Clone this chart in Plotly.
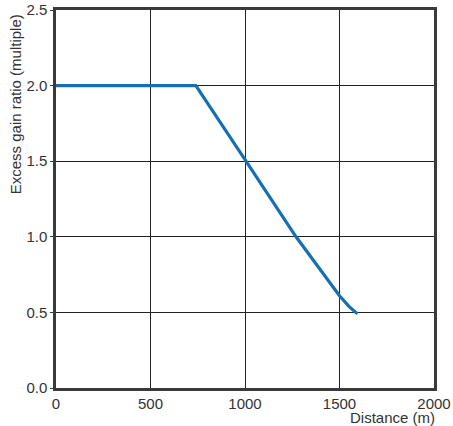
import plotly.graph_objects as go

# valores
distancia = [0, 740, 1000, 1270, 1500, 1550, 1595]
ganancia = [2.0, 2.0, 1.51, 1.0, 0.61, 0.54, 0.49]

x_ticks = [0, 500, 1000, 1500, 2000]
y_ticks = [0.0, 0.5, 1.0, 1.5, 2.0, 2.5]
y_labels = ['0.0', '0.5', '1.0', '1.5', '2.0', '2.5']

fig = go.Figure()
fig.add_trace(
    go.Scatter(
        x=distancia,
        y=ganancia,
        mode='lines',
        line=dict(color='#1570b3', width=3.2),
        showlegend=False,
    )
)

fuente = dict(family='Liberation Sans, Arial', size=15, color='#333333')

fig.update_layout(
    width=453,
    height=426,
    paper_bgcolor='white',
    plot_bgcolor='white',
    margin=dict(l=56, r=19, t=10, b=38, autoexpand=False),
    font=fuente,
    xaxis=dict(
        range=[0, 2000],
        tickvals=x_ticks,
        showgrid=True,
        gridcolor='#222222',
        gridwidth=1,
        showline=True,
        linecolor='#3a3a3a',
        linewidth=2.5,
        mirror=True,
        ticks='',
        zeroline=False,
        automargin=False,
        tickfont=fuente,
    ),
    yaxis=dict(
        range=[0, 2.5],
        tickvals=y_ticks,
        ticktext=y_labels,
        showgrid=True,
        gridcolor='#222222',
        gridwidth=1,
        showline=True,
        linecolor='#3a3a3a',
        linewidth=2.5,
        mirror=True,
        ticks='outside',
        ticklen=3,
        tickcolor='#3a3a3a',
        zeroline=False,
        automargin=False,
        tickfont=fuente,
    ),
    annotations=[
        dict(
            text='Distance (m)',
            xref='paper', yref='paper',
            x=1.008, y=-0.079,
            xanchor='right', yanchor='middle',
            showarrow=False,
            font=fuente,
        ),
        dict(
            text='Excess gain ratio (multiple)',
            xref='paper', yref='paper',
            x=-0.108, y=0.751,
            xanchor='center', yanchor='middle',
            textangle=-90,
            showarrow=False,
            font=fuente,
        ),
    ],
)

# quitar el margen del body para que la figura quede en 0,0
fig.write_html(
    "out.html",
    config={'displayModeBar': False},
    post_script="document.body.style.margin='0px';",
)
